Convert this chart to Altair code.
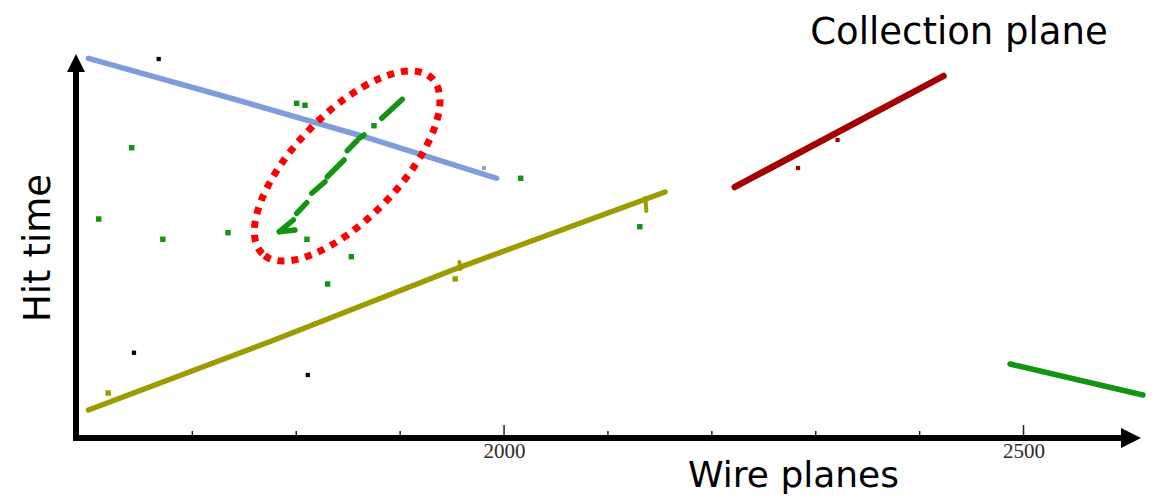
import altair as alt
import pandas as pd

# ---- values (x = wire number, t = hit-time ticks) ----
blue_wire = [1600, 1733, 1863, 1993]
blue_time = [3797, 3410, 3020, 2597]

yellow_wire = [1600, 1775, 1953, 2155]
yellow_time = [280, 965, 1690, 2460]

yellow_stub_w1 = [2136, 1957]
yellow_stub_t1 = [2400, 1760]
yellow_stub_w2 = [2137, 1958]
yellow_stub_t2 = [2270, 1690]
yellow_blob_wire = [1953, 1619]
yellow_blob_time = [1590, 450]

red_wire = [2222, 2423]
red_time = [2510, 3620]
red_dot_wire = [2283, 2321]
red_dot_time = [2700, 2980]

green_br_wire = [2487, 2615]
green_br_time = [740, 430]

green_seg_w1 = [1783.7, 1783.7, 1800.4, 1814.9, 1829.9, 1849.1, 1860.7, 1882.3]
green_seg_t1 = [2063, 2063, 2247, 2447, 2613, 2873, 2997, 3197]
green_seg_w2 = [1797.2, 1798.8, 1810.1, 1827.7, 1846.0, 1858.2, 1865.2, 1902.1]
green_seg_t2 = [2180, 2080, 2353, 2563, 2780, 2970, 3030, 3387]

green_dot_wire = [1800.4, 1808.4, 1641.6, 1874.8, 2016, 1609.9, 1671.6, 1734.3,
                  1810.3, 1853, 1830.2, 2130.7]
green_dot_time = [3347, 3327, 2903, 3123, 2597, 2190, 1987, 2053,
                  1987, 1813, 1540, 2113]

black_dot_wire = [1667.6, 1643.8, 1811.1]
black_dot_time = [3790, 853, 630]
gray_dot_wire = [1980.7]
gray_dot_time = [2700]

ellipse_wire = [1849]
ellipse_time = [2720]

minor_ticks = [1700, 1800, 1900, 2100, 2200, 2300, 2400]
major_ticks = [2000, 2500]
tick_labels = [2000, 2500]

W, H = 1067, 388
FONT = "DejaVu Sans"
xs = alt.Scale(domain=[1588, 2615], nice=False, zero=False)
ys = alt.Scale(domain=[0, 3880], nice=False, zero=False)

x_axis = alt.Axis(
    values=tick_labels, format="d", domain=False, ticks=False, grid=False,
    labelFont="Liberation Serif", labelFontSize=21, labelColor="#2a2a2a",
    labelPadding=2, labelFlush=False,
    title="Wire planes", titleFont=FONT, titleFontSize=36,
    titleFontWeight="normal", titleColor="black",
    titleX=717, titleY=48.5, titleAlign="center", titleBaseline="alphabetic")


def X(f):
    return alt.X(f, type="quantitative", scale=xs, axis=x_axis, title="Wire planes")


def Y(f):
    return alt.Y(f, type="quantitative", scale=ys, axis=None)


blank = alt.Data(values=[{}])

yellow = alt.Chart(pd.DataFrame({"w": yellow_wire, "t": yellow_time})).mark_line(
    color="#9c9c00", strokeWidth=5.5, strokeCap="round").encode(x=X("w"), y=Y("t"))
yellow_stubs = alt.Chart(pd.DataFrame({"w": yellow_stub_w1, "t": yellow_stub_t1,
                                       "w2": yellow_stub_w2, "t2": yellow_stub_t2})).mark_rule(
    color="#9c9c00", strokeWidth=4, strokeCap="round").encode(
    x=X("w"), y=Y("t"), x2="w2:Q", y2="t2:Q")
yellow_blobs = alt.Chart(pd.DataFrame({"w": yellow_blob_wire, "t": yellow_blob_time})).mark_square(
    color="#9c9c00", size=30, opacity=1).encode(x=X("w"), y=Y("t"))

blue = alt.Chart(pd.DataFrame({"w": blue_wire, "t": blue_time})).mark_line(
    color="#7d9ddc", strokeWidth=5.5, strokeCap="round").encode(x=X("w"), y=Y("t"))

green_segs = alt.Chart(pd.DataFrame({"w": green_seg_w1, "t": green_seg_t1,
                                     "w2": green_seg_w2, "t2": green_seg_t2})).mark_rule(
    color="#139413", strokeWidth=5.5, strokeCap="round").encode(
    x=X("w"), y=Y("t"), x2="w2:Q", y2="t2:Q")

red = alt.Chart(pd.DataFrame({"w": red_wire, "t": red_time})).mark_line(
    color="#a30000", strokeWidth=6.5, strokeCap="round").encode(x=X("w"), y=Y("t"))
red_dots = alt.Chart(pd.DataFrame({"w": red_dot_wire, "t": red_dot_time})).mark_square(
    color="#a30000", size=18, opacity=1).encode(x=X("w"), y=Y("t"))

green_br = alt.Chart(pd.DataFrame({"w": green_br_wire, "t": green_br_time})).mark_line(
    color="#139413", strokeWidth=5.5, strokeCap="round").encode(x=X("w"), y=Y("t"))

green_dots = alt.Chart(pd.DataFrame({"w": green_dot_wire, "t": green_dot_time})).mark_square(
    color="#139413", size=30, opacity=1).encode(x=X("w"), y=Y("t"))
black_dots = alt.Chart(pd.DataFrame({"w": black_dot_wire, "t": black_dot_time})).mark_square(
    color="black", size=18, opacity=1).encode(x=X("w"), y=Y("t"))
gray_dots = alt.Chart(pd.DataFrame({"w": gray_dot_wire, "t": gray_dot_time})).mark_square(
    color="#9a9a9a", size=14, opacity=1).encode(x=X("w"), y=Y("t"))

ellipse = alt.Chart(pd.DataFrame({"w": ellipse_wire, "t": ellipse_time})).mark_point(
    shape="M -1 0 A 1 0.43 0 1 1 1 0 A 1 0.43 0 1 1 -1 0 Z",
    size=59536, angle=314, filled=False, color="#ff0000", opacity=1,
    strokeWidth=7, strokeDash=[7, 7]).encode(x=X("w"), y=Y("t"))

minor = alt.Chart(pd.DataFrame({"w": minor_ticks})).mark_rule(
    color="#222222", strokeWidth=1.5).encode(x=X("w"), y=alt.value(H - 7), y2=alt.value(H))
major = alt.Chart(pd.DataFrame({"w": major_ticks})).mark_rule(
    color="#222222", strokeWidth=1.5).encode(x=X("w"), y=alt.value(H - 13), y2=alt.value(H))

x_line = alt.Chart(blank).mark_rule(color="black", strokeWidth=6).encode(
    x=alt.value(-3), x2=alt.value(1050), y=alt.value(H))
y_line = alt.Chart(blank).mark_rule(color="black", strokeWidth=6).encode(
    x=alt.value(0), y=alt.value(H + 3), y2=alt.value(20))
x_arrow = alt.Chart(blank).mark_point(
    shape="M -1 -1 L 1 0 L -1 1 Z", size=400, filled=True, color="black", opacity=1).encode(
    x=alt.value(1055), y=alt.value(H))
y_arrow = alt.Chart(blank).mark_point(
    shape="M -1 1 L 0 -1 L 1 1 Z", size=324, filled=True, color="black", opacity=1).encode(
    x=alt.value(0), y=alt.value(13))

title_text = alt.Chart(blank).mark_text(
    text="Collection plane", font=FONT, fontSize=37, color="black",
    align="center", baseline="alphabetic").encode(x=alt.value(883), y=alt.value(-6))
y_title = alt.Chart(blank).mark_text(
    text="Hit time", font=FONT, fontSize=37, color="black", angle=270,
    align="center", baseline="alphabetic").encode(x=alt.value(-26.5), y=alt.value(198))

chart = alt.layer(
    yellow, yellow_stubs, yellow_blobs, blue, green_segs, red, red_dots,
    green_br, green_dots, black_dots, gray_dots, minor, major, x_line, y_line,
    x_arrow, y_arrow, ellipse, title_text, y_title,
).properties(
    width=W, height=H,
    autosize=alt.AutoSizeParams(type="none"),
    padding={"left": 68, "top": 42, "right": 22, "bottom": 60},
).configure_view(stroke=None)

chart.save("out.html", embed_options={"renderer": "svg", "actions": False})
